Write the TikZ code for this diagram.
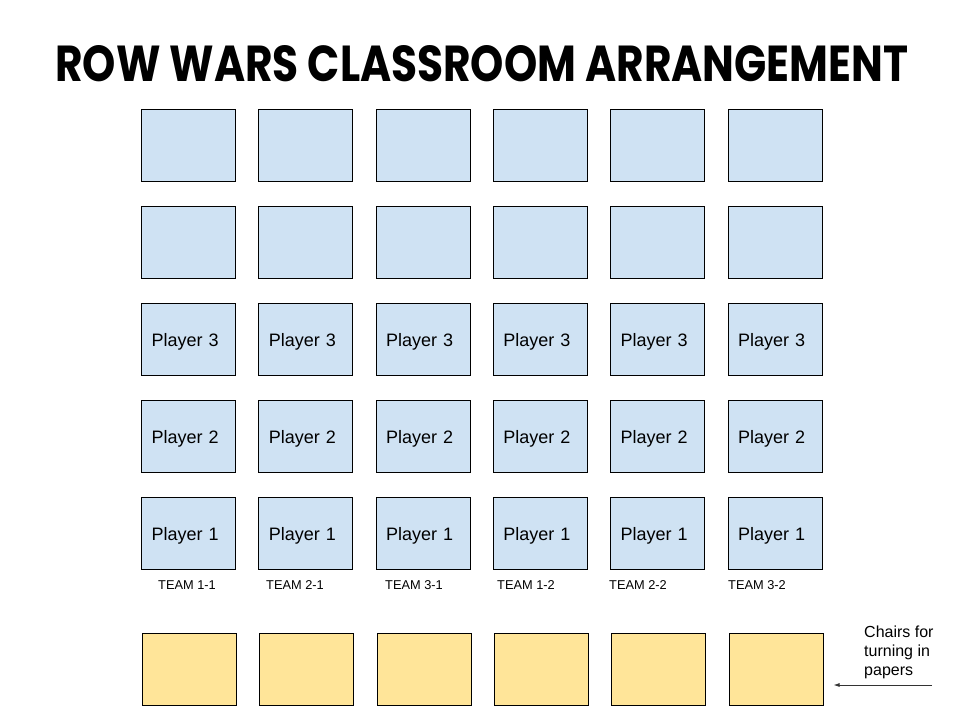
\documentclass[tikz,border=0pt]{standalone}
\usepackage{fontspec}
\setmainfont{Liberation Sans}
\newfontfamily\titlefont{Poppins}
\usetikzlibrary{arrows.meta}
\definecolor{deskblue}{HTML}{CFE2F3}
\definecolor{chairyellow}{HTML}{FFE599}
\definecolor{arrowgray}{HTML}{333333}
\tikzset{
  desk/.style={draw=black, line width=1pt, fill=deskblue, minimum width=94pt, minimum height=72pt,
    inner sep=0pt, anchor=north west, text width=74pt, align=left, inner xsep=10pt,
    text depth=0pt, font=\fontsize{18}{22}\selectfont},
  chair/.style={draw=black, line width=1pt, fill=chairyellow, minimum width=94pt, minimum height=72pt,
    inner sep=0pt, anchor=north west},
  teamlabel/.style={anchor=west, inner sep=0pt, font=\fontsize{12.8}{15}\selectfont},
  note/.style={anchor=north west, inner sep=0pt, align=left, font=\fontsize{16}{19}\selectfont},
  pointer/.style={draw=arrowgray, line width=0.9pt, -{Latex[length=6pt,width=4pt]}}
}
\begin{document}
\begin{tikzpicture}[x=1pt,y=-1pt]
\useasboundingbox (0,0) rectangle (960,720);
\node[inner sep=0pt, anchor=south west] (title) at (55,82)
  {\resizebox{853pt}{36pt}{\titlefont\bfseries ROW WARS CLASSROOM ARRANGEMENT}};
\foreach \i in {0,...,5} {
  \pgfmathsetmacro{\xx}{141+117.3*\i}
  \node[desk] (d1-\i) at (\xx,109) {};
  \node[desk] (d2-\i) at (\xx,206) {};
  \node[desk] (d3-\i) at (\xx,303) {Player 3};
  \node[desk] (d4-\i) at (\xx,400) {Player 2};
  \node[desk] (d5-\i) at (\xx,497) {Player 1};
  \node[chair] (c-\i) at (\xx+1,633) {};
}
\node[teamlabel] (t1) at (158,585.5) {TEAM 1-1};
\node[teamlabel] (t2) at (266,585.5) {TEAM 2-1};
\node[teamlabel] (t3) at (385,585.5) {TEAM 3-1};
\node[teamlabel] (t4) at (497,585.5) {TEAM 1-2};
\node[teamlabel] (t5) at (609,585.5) {TEAM 2-2};
\node[teamlabel] (t6) at (728,585.5) {TEAM 3-2};
\node[note] (chairs) at (864,625.5) {Chairs for\\turning in\\papers};
\coordinate (arrowstart) at (932,685);
\path (c-5.east |- arrowstart) ++(10,0) coordinate (arrowend);
\draw[pointer] (arrowstart) -- (arrowend);
\end{tikzpicture}
\end{document}
